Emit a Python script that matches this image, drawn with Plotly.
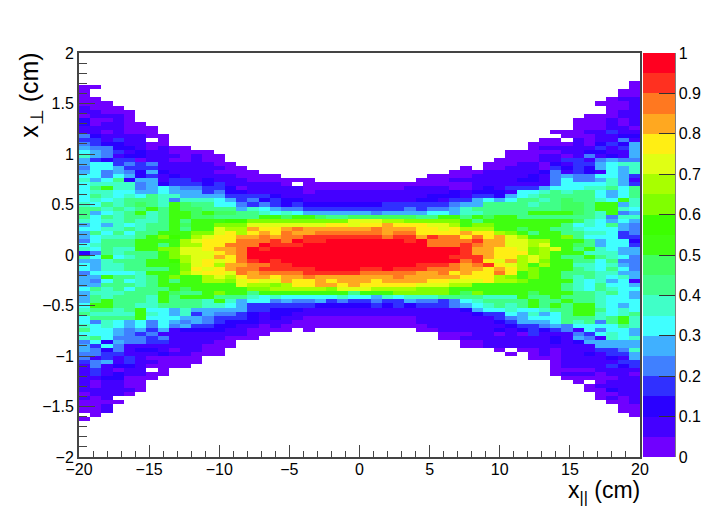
import plotly.graph_objects as go

# Colour level of each cell: 0-9, a-j = bands 0..19 of width 0.05; '.' = empty.
# Each row is a left-aligned run and a right-aligned run, top row first.
FIRST_ROW = 7
LEFT_LEVELS = [
"", "00", "0", "0", "00", "000", "1000", "11000", "01110", "20010", "201100", "1111000", "1101000",
"42111100", "331311.0", "43221100", "5442210100", "654312110000", "7541221110100", "5323301100100",
"56634341111100", "466533311111100", "5645425211110000", "664652312111110000", "756825513312111000000",
"67777 45233 32311 1110. 00000", "68a77 45654 43320 11111 00000", "67766 55655 53422 11111 01111",
"68767 68775 55533 33211 11111", "67678 88747 77653 42322 11111", "76878 987a9 88664 34323 22222",
"88787 8a8a9 98885 76544 33333", "85678 a78aa 9a998 87676 55555", "86878 878aa 99888 8aa9a a9889",
"76778 778a8 aaabb ccccc cccce", "56576 788a9 aaccc eeeee eeffe", "66778 788a8 aaedd gffgh ggggg",
"58686 88aaa ccefd fgfhg ghhhh", "56777 8acba deffg ghghh iiiii", "46888 aaaad efffh hhihj iijjj",
"67888 aa8ad dffhh hjiii jjjjj", "76877 aacce efggh jijjj jjjjj", "24878 88ace eefgh jjjjj jjjjj",
"86a67 88acd eegfh jjjjj jjjjj", "55788 8aabd efefh ijijj jjjjj", "65778 8aaac efdgg hhiij jjjjj",
"65778 888ac fefgh hiiii ijjjj", "46666 7aaad effeh ghhhh iiiii", "55a88 78aca adedf ggfgg hgggg",
"54686 78a8a addce feegf fgfgg", "55888 78aaa aaaae ddcdf fggfg", "68786 888a9 aaaaa ccddd ddcee",
"57778 88a98 8acaa 8aaaa aaaa8", "58788 87a8a aa888 76766 66676", "58a88 87a88 87a75 66454 45343",
"6aa88 77888 87765 33333 32222", "78878 a6657 55555 33222 11111", "87777 a7657 35443 21221 11111",
"68888 a6665 54333 21211 00000", "64765 64654 54322 21110 00000", "76765 64645 33221 10100 00000",
"86654 53512 22211 0000. 0", "66654 34111 11111 00", "78644 43411 11100 0", "46254 43311 1100",
"53641 11111 1000", "54241 22101 100", "44331 11211 000", "41313 10000 0", "34513 11000 0", "14122 10000",
"13101 1.0", "13121 100", "11220 00", "10110 0", "10110 0", "11111 0", "01110", "101", "0000", "001", "001",
".0", "0", "", "0",
]
RIGHT_LEVELS = [
"0", "0", "00", "00", "011", "0001", "001", "011", "00011", "000101", "000101", "000110", "00011311",
"0001122", "00.101141", "0000102325", "0111113135", "000001122115", "000110141215", "0000113314544",
"00011021335677", "0.00111032325657", "00011111241321657", "0000111112145446653", "00011111122146445751",
"00000 00000 11111 11466 66753", "00001 11100 12133 35666 77868", "11111 11121 22216 67878 86568",
"11111 12221 33256 78888 86568", "11111 22133 56568 87898 876a7", "22333 33345 58888 78899 8aa57",
"33334 34457 88888 88899 8aa76", "54555 56657 78888 aaaa9 87a45", "99999 88aa8 a9aa8 88888 87477",
"eeddc cccca 8aaaa aaaa9 76565", "ffgff feeda ccaaa aaa86 76854", "ghggg ffefd ddaa9 aa887 66654",
"hhghh ffffg ffdca 8aa88 77634", "iihii gihhf hfged aaac8 66633", "jjjji jhhhh iggee ddaaa 85662",
"jjjjj jhhhi hggee deaa9 85663", "jjjjj jjjji ggffe cdea8 a7655", "jjjjj jjjji ggfff cdaaa 77755",
"jjjjj jjjii igffd eda88 a8764", "jjjjj jjjjh ifegd ecaa8 86844", "jjjjj iiihg hifed adaa7 76754",
"iijii ihhhg gfgfd caaa8 76864", "hhhhh gghfg ffhfa caa88 87755", "ggghg ggggf ffdca caa87 87675",
"gfggg gffee efddc aaaa7 67561", "fffff eeedd aaaaa aaa87 68665", "edddd cccaa aaaaa aaa87 68766",
"aaacc ccca9 caaaa 9aaa8 87865", "65767 77888 8777a 88a88 87665", "34335 44346 78888 a88a8 87666",
"23232 33345 67878 a8a8a a7656", "11111 11112 56676 6788a a8676", "11111 11111 23365 7568a a7678",
"00000 11111 11345 66688 878a7", "00000 11111 11235 55687 848a7",
"00000 01111 11123 34546 66687", "00111 11212 32341 64665", "00011 01031 11436 765",
"00111 11111 21541 767", "00111 11121 25555 5", "00111 11111 11555 5", "0.001 01113 347", "0.010 11213 35",
"00011 11215", "01111 133", "01111 323", "00001 111", "01110 110", "00000 11", "0.011 1", "01111", "00211",
"0011", "0101", "001", "00", "00", "0", "", "",
]

X_TICKS = [-20, -15, -10, -5, 0, 5, 10, 15, 20]
Y_TICKS = [-2, -1.5, -1, -0.5, 0, 0.5, 1, 1.5, 2]
Y_LABELS = ["−2", "−1.5", "−1", "−0.5", "0", "0.5", "1", "1.5", "2"]
BAR_TICKS = [0, .1, .2, .3, .4, .5, .6, .7, .8, .9, 1]
BAR_LABELS = ["0", "0.1", "0.2", "0.3", "0.4", "0.5", "0.6", "0.7", "0.8", "0.9", "1"]
BAND_COLORS = ["#7000ff", "#4400ff", "#2a00ff", "#3030ff", "#4080ff", "#40b0ff", "#40ffff", "#40ffc8",
               "#40ff88", "#40ff60", "#40ff10", "#3cff00", "#80ff00", "#a8ff00", "#e0ff14", "#ffee14",
               "#ffa820", "#ff7820", "#ff3020", "#ff0020"]
NX, NY = 50, 100
DIGITS = "0123456789abcdefghij"

x = [-20 + 0.8 * (i + 0.5) for i in range(NX)]
y = [2 - 0.04 * (j + 0.5) for j in range(NY)]
z = [[None] * NX for _ in range(NY)]
for k, (ls, rs) in enumerate(zip(LEFT_LEVELS, RIGHT_LEVELS)):
    ls, rs = ls.replace(" ", ""), rs.replace(" ", "")
    row = z[FIRST_ROW + k]
    for i, ch in enumerate(ls[:NX]):
        if ch in DIGITS:
            row[i] = (DIGITS.index(ch) + 0.5) / 20
    for i, ch in enumerate(reversed(rs)):
        if ch in DIGITS:
            row[NX - 1 - i] = (DIGITS.index(ch) + 0.5) / 20

scale = []
for i, c in enumerate(BAND_COLORS):
    scale += [[i / 20, c], [(i + 1) / 20, c]]

FONT = "Liberation Sans, Arial, sans-serif"
fig = go.Figure(go.Heatmap(
    x=x, y=y, z=z, zmin=0, zmax=1, colorscale=scale, hoverongaps=False,
    colorbar=dict(
        x=(643 - 79) / 561, xanchor="left", xpad=0, y=0, yanchor="bottom", ypad=0, len=1,
        thickness=32, outlinewidth=0, ticks="inside", ticklen=16, tickwidth=1, tickcolor="#333333",
        tickvals=BAR_TICKS, ticktext=BAR_LABELS, tickfont=dict(family=FONT, size=16, color="black"),
    ),
))
tick_style = dict(ticks="inside", tickwidth=1, tickcolor="#444444", showgrid=False, zeroline=False,
                  showline=True, linecolor="#444444", linewidth=2, mirror=True,
                  tickfont=dict(family=FONT, size=16, color="black"))
fig.update_xaxes(range=[-20, 20], tickvals=X_TICKS, ticklen=12, ticklabelstandoff=-3,
                 minor=dict(ticks="inside", dtick=1, ticklen=6, tickcolor="#444444", tickwidth=1, showgrid=False),
                 **tick_style)
fig.update_yaxes(range=[-2, 2], tickvals=Y_TICKS, ticktext=Y_LABELS, ticklen=16,
                 minor=dict(ticks="inside", dtick=0.1, ticklen=8, tickcolor="#444444", tickwidth=1, showgrid=False),
                 **tick_style)
fig.add_shape(type="line", xref="paper", yref="paper", x0=(675 - 79) / 561, x1=(675 - 79) / 561, y0=0, y1=1,
              line=dict(color="#555555", width=1.5))
fig.add_annotation(text="x<sub>||</sub> (cm)", xref="paper", yref="paper", x=1.004, y=-0.045, xanchor="right",
                   yanchor="top", showarrow=False, font=dict(family=FONT, size=23, color="black"))
fig.add_annotation(text="x<sub>⊥</sub> (cm)", xref="paper", yref="paper", x=-0.085, y=1.005, xanchor="center",
                   yanchor="top", textangle=-90, showarrow=False, font=dict(family=FONT, size=25, color="black"))
fig.update_layout(width=714, height=518, margin=dict(l=71, r=82, t=45, b=69, autoexpand=False),
                  paper_bgcolor="white", plot_bgcolor="white", showlegend=False)
fig.write_html("out.html")
